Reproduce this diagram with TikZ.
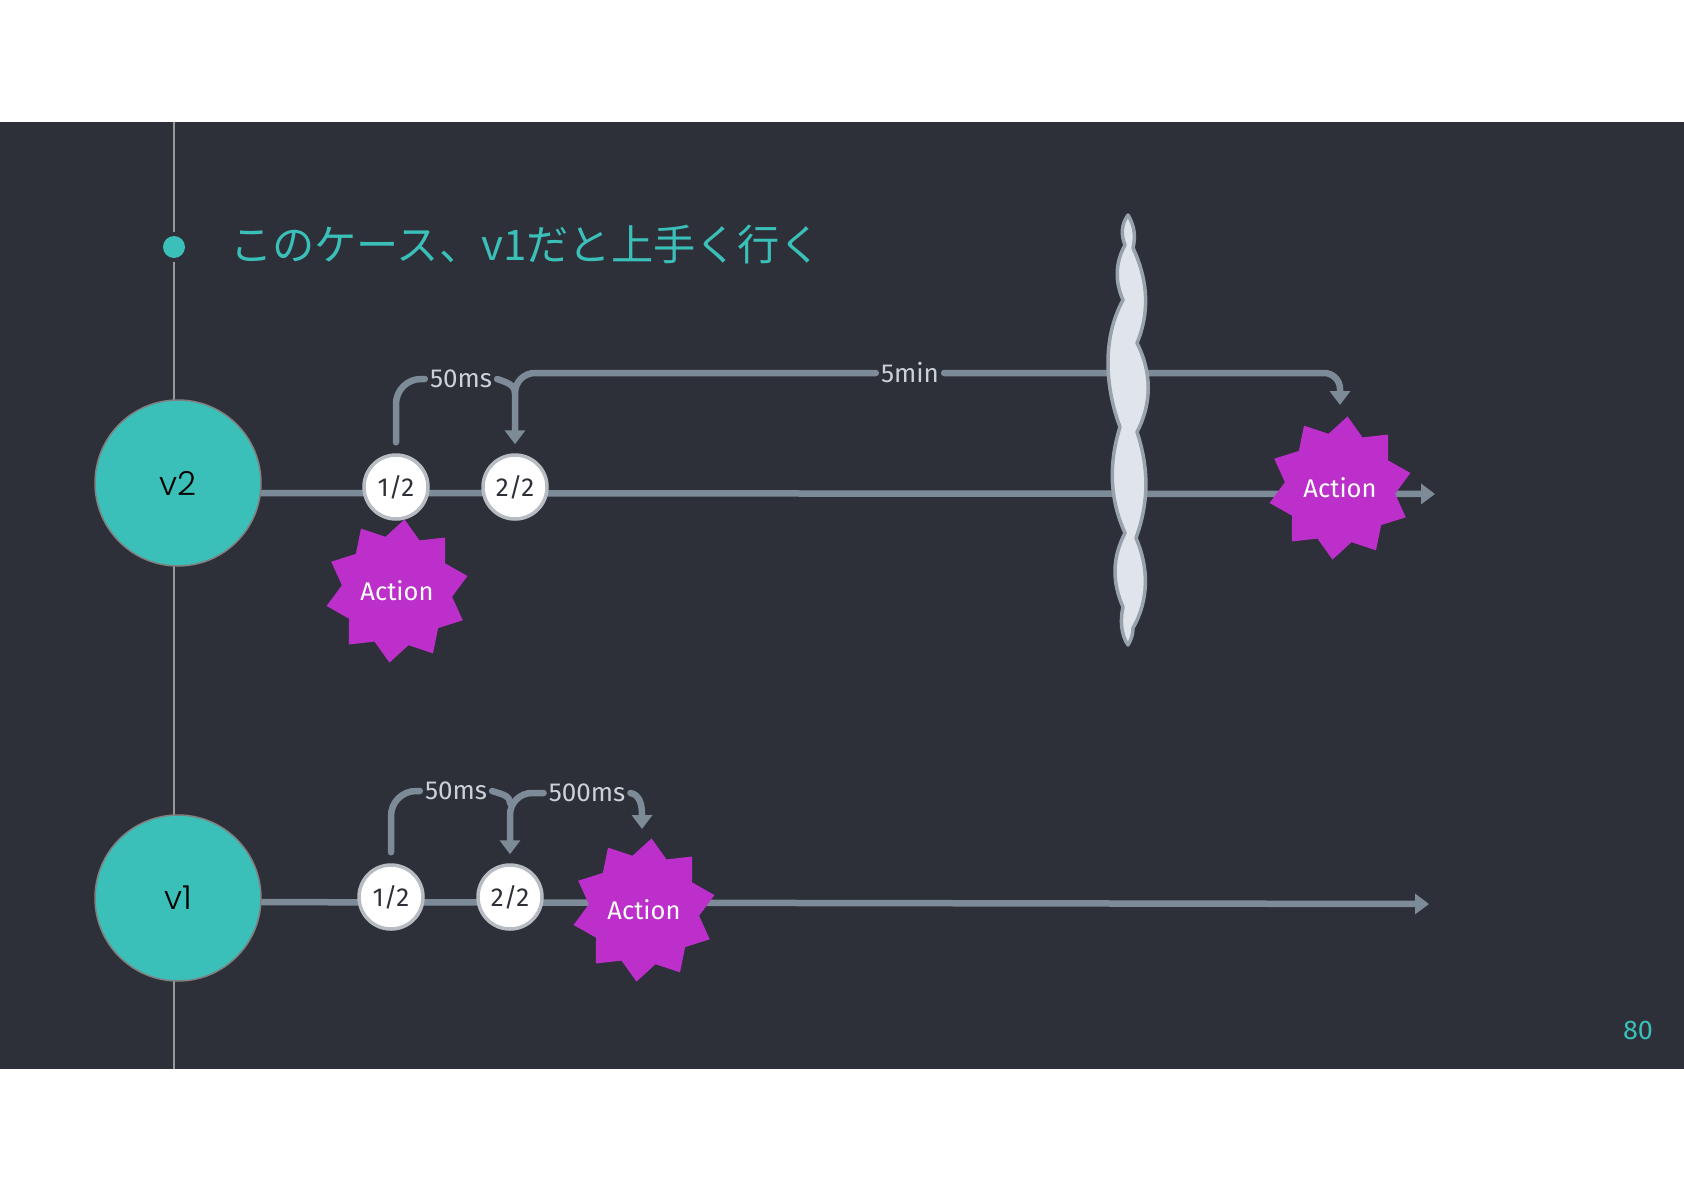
\documentclass[tikz,border=0pt]{standalone}
\usepackage{fontspec}
\setmainfont{Fira Sans}
\newfontfamily\cjkfont{Noto Sans CJK JP}
\newfontfamily\versionfont{Poppins Light}
\usepackage{xcolor}
\usetikzlibrary{arrows.meta, positioning, shapes.geometric, calc, backgrounds}
\definecolor{slide}{HTML}{2D3038}
\definecolor{teal}{HTML}{3BBFB9}
\definecolor{railgray}{HTML}{7D8B98}
\definecolor{labelgray}{HTML}{CBD1D8}
\definecolor{burst}{HTML}{BC2FCB}
\definecolor{cloudfill}{HTML}{E0E5EB}
\tikzset{
  rail/.style={line width=6.5pt, railgray, -{Triangle[width=20pt,length=14pt]}},
  link/.style={line width=6.5pt, railgray, line cap=round},
  linkarrow/.style={link, -{Triangle[width=20pt,length=14pt]}},
  version/.style={circle, fill=teal, draw=gray, line width=1.5pt, minimum size=166pt, inner sep=0pt, font=\versionfont\fontsize{33}{33}\selectfont, text=black},
  count/.style={circle, fill=white, draw=labelgray!90!black, line width=3.5pt, minimum size=64pt, inner sep=0pt, font=\fontsize{26}{26}\selectfont, text=slide},
  action/.style={star, star points=10, star point ratio=1.3, shape border rotate=-6, fill=burst, minimum size=144pt, inner sep=0pt, font=\fontsize{25.5}{25.5}\selectfont, text=white},
  delay/.style={font=\fontsize{26}{26}\selectfont, text=labelgray, inner sep=5pt},
}

\begin{document}
\begin{tikzpicture}[x=1pt, y=-1pt]
  \useasboundingbox (0,0) rectangle (1684,1191);

  % Slide
  \begin{scope}[on background layer]
    \fill[slide] (0,122) rectangle (1684,1069);
  \end{scope}

  % Title
  \node[circle, fill=teal, minimum size=22pt, inner sep=0pt] (dot) at (174,247) {};
  \node[anchor=west, text=teal, inner sep=0pt, font=\cjkfont\fontsize{42.2}{42.2}\selectfont] (title) at (230,245) {このケース、v1だと上手く行く};
  \node[text=teal, font=\fontsize{27}{27}\selectfont] (page) at (1638,1030) {80};

  % Versions
  \node[version] (v2) at (178,483) {v2};
  \node[version] (v1) at (178,898) {v1};

  % Upper row
  \node[count] (c1) at (396,487) {1/2};
  \node[count] (c2) at (515,487) {2/2};
  \node[action] (fire1) at (397,591) {Action};
  \node[action] (fire2) at (1340,488) {Action};
  \node[delay] (d50) at (461,379) {50ms};
  \node[delay] (d5m) at (910,373) {5min};
  \coordinate (c2top) at ($(c2.north)+(0,-60)$);
  \coordinate (v2end) at (1435,494);

  % Lower row
  \node[count] (e1) at (391,897) {1/2};
  \node[count] (e2) at (510,897) {2/2};
  \node[action] (fire3) at (644,910) {Action};
  \node[delay] (f50) at (456,791) {50ms};
  \node[delay] (f500) at (587,793) {500ms};
  \coordinate (e2top) at ($(e2.north)+(0,-60)$);
  \coordinate (firebend) at ($(fire3.north)+(-2,-30)$);
  \coordinate (firetop) at ($(fire3.north)+(-2,-16)$);
  \coordinate (v1end) at (1429,904);

  % Cloud over the long wait
  \draw[draw=railgray!80!white, fill=cloudfill, line width=3.5pt, line join=round]
    (1128,215) .. controls (1121,225) and (1121,235) .. (1125,245)
    .. controls (1115,263) and (1115,282) .. (1123,300)
    .. controls (1101,340) and (1106,390) .. (1120,427)
    .. controls (1109,462) and (1109,498) .. (1125,533)
    .. controls (1112,558) and (1112,582) .. (1123,607)
    .. controls (1120,620) and (1121,635) .. (1128,645)
    .. controls (1131,640) and (1133,635) .. (1133,628)
    .. controls (1149,600) and (1149,568) .. (1136,538)
    .. controls (1149,502) and (1149,468) .. (1137,432)
    .. controls (1152,403) and (1152,373) .. (1137,343)
    .. controls (1150,312) and (1148,280) .. (1133,248)
    .. controls (1136,235) and (1134,225) .. cycle;

  \begin{scope}[on background layer]
    % Axis
    \draw[gray!80!white, line width=2pt] (174,122) -- (dot.north |- 0,232);
    \draw[gray!80!white, line width=2pt] (174,262) -- (174,1069);

    % Timelines
    \draw[rail] ($(v2)+(0,10)$) -- (v2end);
    \draw[rail] ($(v1)+(0,4)$) -- (v1end);

    % Upper delays
    \draw[link, rounded corners=25pt, shorten <=11pt] (c1.north) |- (d50.west);
    \draw[link] (d50.east) to[out=-20, in=90] (c2top);
    \draw[linkarrow, rounded corners=20pt, shorten >=9pt] (d5m.west) -| (c2.north);
    \draw[linkarrow, rounded corners=16pt] (d5m.east) -- (1340,373) -- (1340,405);

    % Lower delays
    \draw[link, rounded corners=25pt, shorten <=11pt] (e1.north) |- (f50.west);
    \draw[link] (f50.east) to[out=-20, in=90] (e2top);
    \draw[linkarrow, rounded corners=22pt, shorten >=9pt] (f500.west) -| (e2.north);
    \draw[link] (f500.east) to[out=-10, in=90] (firebend);
    \draw[linkarrow] (firebend) -- (firetop);
  \end{scope}
\end{tikzpicture}
\end{document}
